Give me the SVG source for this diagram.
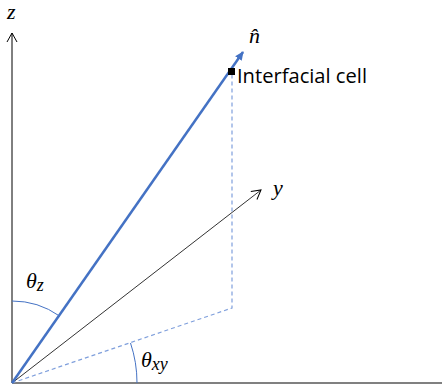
<svg xmlns="http://www.w3.org/2000/svg" width="442" height="391" viewBox="0 0 442 391">
<style>
.lbl{font-family:"Liberation Serif",serif;font-style:italic;fill:#000;font-size:22px}
.sub{font-size:18px}
.txt{font-family:"Open Sans","Liberation Sans",sans-serif;fill:#000}
.dash{stroke:#7f9fdc;stroke-width:1.2;stroke-dasharray:4 3;fill:none}
</style>
<defs>
<marker id="openBlack" markerWidth="12" markerHeight="12" refX="10" refY="6" orient="auto" markerUnits="userSpaceOnUse">
<path d="M1,1 L10,6 L1,11" fill="none" stroke="#000" stroke-width="1"/>
</marker>
<marker id="blueHead" markerWidth="10" markerHeight="10" refX="8" refY="5" orient="auto" markerUnits="userSpaceOnUse">
<path d="M0,1 L9,5 L0,9 z" fill="#4472c4"/>
</marker>
</defs>
<rect width="442" height="391" fill="#fff"/>
<g id="connectors">
<line x1="12" y1="383" x2="442" y2="383" stroke="#808080" stroke-width="2"/>
<line x1="12" y1="383" x2="12" y2="33" stroke="#000" stroke-width="1" marker-end="url(#openBlack)"/>
<line x1="12" y1="383" x2="261" y2="190" stroke="#333" stroke-width="1" marker-end="url(#openBlack)"/>
<polyline class="dash" points="12,383 232,308 232,75"/>
<line x1="12" y1="383" x2="243" y2="52" stroke="#4472c4" stroke-width="2.5" marker-end="url(#blueHead)"/>
<path d="M12,301 A82,82 0 0 1 59.5,316" fill="none" stroke="#4472c4" stroke-width="1"/>
<path d="M130.5,343 A125,125 0 0 1 137,383" fill="none" stroke="#4472c4" stroke-width="1"/>
</g>
<g id="cell">
<rect x="228" y="68" width="7" height="7" fill="#000"/>
<text class="txt" x="237" y="83" font-size="19.5" textLength="130" lengthAdjust="spacingAndGlyphs">Interfacial cell</text>
</g>
<g id="labels">
<text class="lbl" x="7" y="19">z</text>
<text class="lbl" x="249" y="43">n̂</text>
<text class="lbl" x="273" y="195">y</text>
<text class="lbl" x="26" y="288">θ<tspan class="sub" dy="3">z</tspan></text>
<text class="lbl" x="141" y="367">θ<tspan class="sub" dy="3">xy</tspan></text>
</g>
</svg>
